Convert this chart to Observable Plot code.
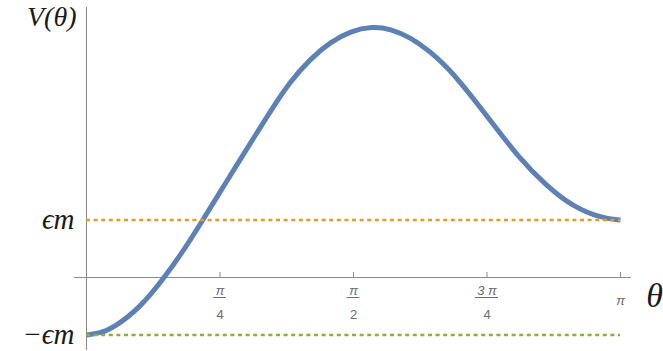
<!DOCTYPE html>
<html>
<head>
<meta charset="utf-8">
<script src="https://cdn.jsdelivr.net/npm/d3@7"></script>
<script src="https://cdn.jsdelivr.net/npm/@observablehq/plot@0.6"></script>
<style>
  html, body { margin: 0; padding: 0; background: #fff; }
  #chart svg { display: block; }
</style>
</head>
<body>
<div id="chart"></div>
<script>
// θ in units of π, V(θ) in units of εm
const thetaPi = [0, 0.025, 0.05, 0.10, 0.145, 0.182, 0.217, 0.251, 0.288, 0.318, 0.3446, 0.382, 0.4195, 0.457, 0.4944, 0.535, 0.569, 0.607, 0.644, 0.6755, 0.70, 0.751, 0.807, 0.863, 0.912, 0.9625, 1.0];
const V =       [-1, -0.97, -0.88, -0.53, -0.01, 0.47, 0.99, 1.50, 2.06, 2.50, 2.90, 3.42, 3.81, 4.10, 4.29, 4.37, 4.33, 4.18, 3.93, 3.66, 3.40, 2.80, 2.11, 1.58, 1.23, 1.04, 1.0];

// reference levels
const levels = [1, -1];
const levelLabels = ["ϵm", "−ϵm"];
const levelColors = ["#E19C24", "#8FB032"];

// x ticks (units of π)
const tickPi = [0, 0.25, 0.5, 0.75, 1];
const tickNum = ["", "π", "π", "3 π", "π"];
const tickDen = ["", "4", "2", "4", ""];

const curve = thetaPi.map((t, i) => ({x: t * Math.PI, y: V[i]}));
const ticks = tickPi.map((t, i) => ({x: t * Math.PI, num: tickNum[i], den: tickDen[i]}));
const fracs = ticks.filter(d => d.num && d.den);
const lone = ticks.filter(d => d.num && !d.den);
const lines = levels.map((v, i) => ({y: v, label: levelLabels[i], color: levelColors[i]}));

const axisColor = "#8a8a8a";
const tickText = "#6b6b6b";
const serif = "Liberation Serif";
const sans = "Liberation Sans";

const plot = Plot.plot({
  width: 663,
  height: 351,
  marginLeft: 86,
  marginRight: 43,
  marginTop: 7,
  marginBottom: 1,
  x: {domain: [0, Math.PI], axis: null},
  y: {domain: [-1.27, 4.70], axis: null},
  marks: [
    // axes
    Plot.ruleY([0], {x1: 0, x2: Math.PI, insetLeft: -12, insetRight: -11, stroke: axisColor, strokeWidth: 1}),
    Plot.ruleX([0], {y1: -1.27, y2: 4.70, stroke: axisColor, strokeWidth: 1}),
    Plot.ruleX(ticks, {x: "x", y1: 0, y2: 0, insetTop: -5, stroke: axisColor, strokeWidth: 1}),
    // curve
    Plot.line(curve, {x: "x", y: "y", curve: "basis", stroke: "#5E81B5", strokeWidth: 5, strokeLinecap: "butt", strokeLinejoin: "round"}),
    // dashed reference lines
    Plot.ruleY(lines, {y: "y", x1: 0, x2: Math.PI, stroke: "color", strokeWidth: 2.5, strokeDasharray: "4,3.6"}),
    // level labels
    Plot.text(lines, {x: 0, y: "y", text: "label", dx: -12, textAnchor: "end", fontFamily: serif, fontStyle: "italic", fontWeight: "normal", fontSize: 29, fill: "#1a1a1a"}),
    // tick labels: fractions
    Plot.text(fracs, {x: "x", y: 0, text: "num", dy: 13, fontFamily: sans, fontStyle: "italic", fontSize: 13, fill: tickText}),
    Plot.text(fracs, {x: "x", y: 0, text: "den", dy: 37, fontFamily: sans, fontSize: 13, fill: tickText}),
    Plot.ruleY(fracs.filter(d => d.num.length === 1), {x1: "x", x2: "x", y: 0, dy: 20, insetLeft: -6.3, insetRight: -6.3, stroke: tickText, strokeWidth: 1}),
    Plot.ruleY(fracs.filter(d => d.num.length > 1), {x1: "x", x2: "x", y: 0, dy: 20, insetLeft: -11.5, insetRight: -11.5, stroke: tickText, strokeWidth: 1}),
    Plot.text(lone, {x: "x", y: 0, text: "num", dy: 23, fontFamily: sans, fontStyle: "italic", fontSize: 13, fill: tickText}),
    // axis titles
    Plot.text(["θ"], {x: Math.PI, y: 0, text: d => d, dx: 34, dy: 19, fontFamily: serif, fontStyle: "italic", fontWeight: "normal", fontSize: 34, fill: "#1a1a1a"}),
    Plot.text(["V(θ)"], {frameAnchor: "top-left", text: d => d, dx: -10, dy: 18.5, textAnchor: "end", lineAnchor: "bottom", fontFamily: serif, fontStyle: "italic", fontWeight: "normal", fontSize: 28, fill: "#1a1a1a"})
  ]
});
document.getElementById("chart").appendChild(plot);
</script>
</body>
</html>
